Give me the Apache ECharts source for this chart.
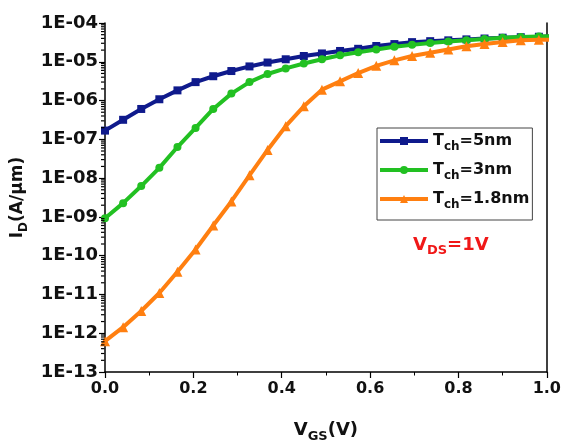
<!DOCTYPE html>
<html>
<head>
<meta charset="utf-8">
<script src="https://cdn.jsdelivr.net/npm/echarts@6/dist/echarts.min.js"></script>
<style>
html,body{margin:0;padding:0;background:#fff;}
#chart{width:564px;height:448px;}
</style>
</head>
<body>
<div id="chart"></div>
<script>
// Gate voltage (V) of the sampled points
const vgs = [0, 0.041, 0.082, 0.123, 0.164, 0.205, 0.245, 0.286, 0.327, 0.368, 0.409, 0.45, 0.491,
  0.532, 0.573, 0.614, 0.655, 0.695, 0.736, 0.777, 0.818, 0.859, 0.9, 0.941, 0.982, 1.023];
// Drain current I_D (A/µm)
const id5nm = [1.68e-7, 3.19e-7, 6.07e-7, 1.08e-6, 1.83e-6, 2.99e-6, 4.24e-6, 5.77e-6, 7.59e-6, 9.57e-6,
  1.16e-5, 1.41e-5, 1.64e-5, 1.90e-5, 2.16e-5, 2.55e-5, 2.86e-5, 3.21e-5, 3.40e-5, 3.57e-5,
  3.78e-5, 3.98e-5, 4.18e-5, 4.30e-5, 4.42e-5, 4.56e-5];
const id3nm = [9.2e-10, 2.26e-9, 6.24e-9, 1.84e-8, 6.33e-8, 1.97e-7, 6.07e-7, 1.51e-6, 2.99e-6, 4.84e-6,
  6.75e-6, 9.04e-6, 1.16e-5, 1.47e-5, 1.77e-5, 2.08e-5, 2.43e-5, 2.73e-5, 3.07e-5, 3.31e-5,
  3.57e-5, 3.87e-5, 4.18e-5, 4.35e-5, 4.51e-5, 4.61e-5];
const id18nm = [6.24e-13, 1.43e-12, 3.75e-12, 1.09e-11, 3.85e-11, 1.44e-10, 6.01e-10, 2.50e-9, 1.18e-8, 5.32e-8,
  2.18e-7, 7.10e-7, 1.91e-6, 3.13e-6, 5.13e-6, 7.85e-6, 1.09e-5, 1.41e-5, 1.71e-5, 2.08e-5,
  2.52e-5, 2.89e-5, 3.25e-5, 3.57e-5, 3.72e-5, 3.72e-5];
const seriesNames = ['Tch=5nm', 'Tch=3nm', 'Tch=1.8nm'];
const legendRest = ['=5nm', '=3nm', '=1.8nm'];
const yMin = 1e-13, yMax = 1e-4;

const colors = ['#0f1a8c', '#22c022', '#ff7f10'];
const symbols = ['rect', 'circle', 'triangle'];
const allData = [id5nm, id3nm, id18nm];

// log minor tick values (2..9 x each decade)
const minorVals = [];
for (let d = -13; d < -4; d++) for (let m = 2; m <= 9; m++) minorVals.push([0, m * Math.pow(10, d)]);

const FONT = 'DejaVu Sans';
const chart = echarts.init(document.getElementById('chart'), null, {renderer: 'canvas'});

const lineSeries = allData.map((arr, i) => ({
  type: 'line', name: seriesNames[i],
  data: vgs.map((v, k) => [v, arr[k]]),
  symbol: symbols[i], symbolSize: i === 2 ? 10 : 8,
  lineStyle: {color: colors[i], width: 4},
  itemStyle: {color: colors[i]},
  z: 3 + i, clip: true, animation: false
}));

chart.setOption({
  animation: false,
  backgroundColor: '#fff',
  grid: {left: 105, right: 16, top: 23, bottom: 69},
  xAxis: {
    type: 'value', min: 0, max: 1, interval: 0.2,
    name: '{m|V}{s|GS}{m|(V)}', nameLocation: 'middle', nameGap: 46,
    nameTextStyle: {rich: {
      m: {fontFamily: FONT, fontWeight: 'bold', fontSize: 18, color: '#111'},
      s: {fontFamily: FONT, fontWeight: 'bold', fontSize: 13, color: '#111', padding: [12, 0, 0, 0]}
    }},
    axisLine: {show: true, lineStyle: {color: '#000', width: 1.5}},
    axisTick: {show: true, inside: false, length: 6, lineStyle: {color: '#000', width: 1.2}},
    minorTick: {show: true, splitNumber: 2, length: 3.5, lineStyle: {color: '#000', width: 1}},
    splitLine: {show: false},
    axisLabel: {fontFamily: FONT, fontWeight: 'bold', fontSize: 16, color: '#111', margin: 9,
      formatter: v => v.toFixed(1)}
  },
  yAxis: [{
    type: 'log', logBase: 10, min: yMin, max: yMax,
    name: '{m|I}{s|D}{m|(A/µm)}', nameLocation: 'middle', nameGap: 72, nameRotate: 90,
    nameTextStyle: {rich: {
      m: {fontFamily: FONT, fontWeight: 'bold', fontSize: 17, color: '#111'},
      s: {fontFamily: FONT, fontWeight: 'bold', fontSize: 12, color: '#111', padding: [12, 0, 0, 0]}
    }},
    axisLine: {show: true, lineStyle: {color: '#000', width: 1.5}},
    axisTick: {show: true, inside: false, length: 6, lineStyle: {color: '#000', width: 1.2}},
    splitLine: {show: false},
    axisLabel: {fontFamily: FONT, fontWeight: 'bold', fontSize: 18, color: '#111', margin: 7,
      formatter: v => { const e = Math.round(Math.log10(v)); const a = Math.abs(e); return '1E' + (e < 0 ? '-' : '+') + (a < 10 ? '0' + a : a); }}
  }, {
    type: 'log', logBase: 10, min: yMin, max: yMax, position: 'right',
    axisLine: {show: true, onZero: false, lineStyle: {color: '#000', width: 1.5}},
    axisTick: {show: false}, axisLabel: {show: false}, splitLine: {show: false}
  }],
  legend: {
    data: seriesNames, orient: 'vertical', left: 377, top: 128,
    padding: [5, 3, 9, 1], itemGap: 9, itemWidth: 48, itemHeight: 10,
    borderColor: '#444', borderWidth: 1, backgroundColor: '#fff',
    lineStyle: {width: 4},
    formatter: name => '{m|T}{s|ch}{m|' + legendRest[seriesNames.indexOf(name)] + '}',
    textStyle: {rich: {
      m: {fontFamily: FONT, fontWeight: 'bold', fontSize: 16, color: '#111'},
      s: {fontFamily: FONT, fontWeight: 'bold', fontSize: 12, color: '#111', padding: [12, 0, 0, 0]}
    }}
  },
  graphic: [{
    type: 'text', left: 413, top: 236,
    style: {
      text: '{m|V}{s|DS}{m|=1V}',
      rich: {
        m: {fontFamily: FONT, fontWeight: 'bold', fontSize: 18, fill: '#f01818'},
        s: {fontFamily: FONT, fontWeight: 'bold', fontSize: 13, fill: '#f01818', padding: [12, 0, 0, 0]}
      }
    }
  }],
  series: lineSeries.concat([{
    type: 'custom', name: 'minorY', coordinateSystem: 'cartesian2d', xAxisIndex: 0, yAxisIndex: 0,
    clip: false, silent: true, z: 10,
    data: minorVals,
    renderItem: (params, api) => {
      const p = api.coord([api.value(0), api.value(1)]);
      return {type: 'line', shape: {x1: p[0] - 4, y1: p[1], x2: p[0] - 0.5, y2: p[1]},
        style: {stroke: '#000', lineWidth: 1.2}};
    }
  }])
});
</script>
</body>
</html>
